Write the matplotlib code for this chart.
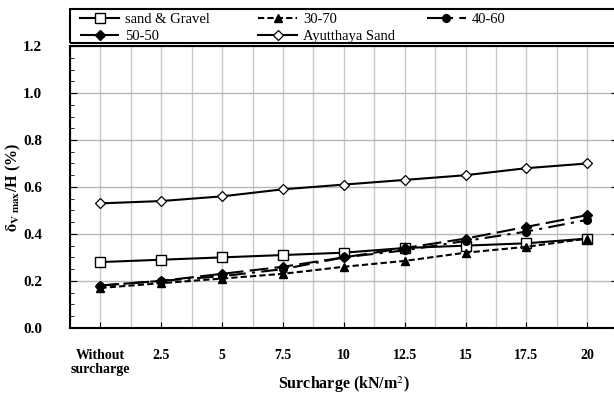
import numpy as np
import matplotlib
matplotlib.use('Agg')
import matplotlib.pyplot as plt
from matplotlib.patches import Rectangle
from matplotlib.ticker import MultipleLocator

plt.rcParams['font.family'] = ['Liberation Serif', 'DejaVu Serif']
plt.rcParams['mathtext.fontset'] = 'stix'

categories = ['Without\nsurcharge', '2.5', '5', '7.5', '10', '12.5', '15', '17.5', '20']
sand_gravel = [0.28, 0.29, 0.30, 0.31, 0.32, 0.34, 0.35, 0.36, 0.38]
mix_30_70 = [0.17, 0.19, 0.21, 0.23, 0.26, 0.285, 0.32, 0.345, 0.38]
mix_40_60 = [0.18, 0.20, 0.22, 0.25, 0.30, 0.33, 0.37, 0.41, 0.46]
mix_50_50 = [0.18, 0.20, 0.23, 0.26, 0.30, 0.34, 0.38, 0.43, 0.48]
ayutthaya = [0.53, 0.54, 0.56, 0.59, 0.61, 0.63, 0.65, 0.68, 0.70]

x = np.arange(len(categories))

fig = plt.figure(figsize=(6.14, 3.94), dpi=100)
ax = fig.add_axes([0.114, 0.168, 0.892, 0.715])

h1, = ax.plot(x, sand_gravel, color='black', lw=1.5, marker='s', ms=7, mfc='white', mec='black', mew=1.0, label='sand & Gravel')
h2, = ax.plot(x, mix_30_70, color='black', lw=1.5, ls=(0, (3, 1.5)), marker='^', ms=6, label='30-70')
h3, = ax.plot(x, mix_40_60, color='black', lw=1.5, ls=(0, (8, 3, 1.5, 3)), marker='o', ms=5.5, label='40-60')
h4, = ax.plot(x, mix_50_50, color='black', lw=1.5, ls=(0, (9, 3)), marker='D', ms=5.5, label='50-50')
h5, = ax.plot(x, ayutthaya, color='black', lw=1.5, marker='D', ms=5, mfc='white', mec='black', mew=0.9, label='Ayutthaya Sand')

ax.set_xlim(-0.5, 8.5)
ax.set_ylim(0, 1.2)
ax.set_xticks(x)
ax.set_xticklabels(categories, fontweight='bold', fontsize=10, linespacing=1.1)
ax.set_xticks(np.arange(-0.5, 9, 0.5), minor=True)
ax.yaxis.set_major_locator(MultipleLocator(0.2))
ax.yaxis.set_minor_locator(MultipleLocator(0.05))
ax.set_yticklabels([f'{v:.1f}' for v in ax.get_yticks()], fontweight='bold', fontsize=11)

ax.grid(True, which='major', axis='y', color='#b8b8b8', lw=1.0)
ax.grid(True, which='both', axis='x', color='#c8c8c8', lw=1.0)
ax.set_axisbelow(True)
ax.tick_params(axis='both', which='both', direction='in', right=True)
ax.tick_params(axis='x', which='minor', length=0)
ax.tick_params(axis='x', which='major', length=4, pad=15)
ax.tick_params(axis='y', which='major', length=5, pad=20)
ax.tick_params(axis='y', which='minor', length=3)
for s in ax.spines.values():
    s.set_linewidth(1.5)

ax.set_xlabel('Surcharge (kN/m$^{2}$)', fontweight='bold', fontsize=11.5)
ax.xaxis.set_label_coords(0.5, -0.165)
ax.set_ylabel(r'$\mathbf{\delta}_{\mathbf{V\ max}}$/H (%)', fontweight='bold', fontsize=11.5)
ax.yaxis.set_label_coords(-0.085, 0.5)

# legend: box across the top, three columns laid out row by row
fig.patches.append(Rectangle((0.114, 0.891), 0.9, 0.086, transform=fig.transFigure,
                             fill=False, edgecolor='black', lw=1.5))
columns = [([h1, h4], 0.130), ([h2, h5], 0.420), ([h3], 0.695)]
for hs, x0 in columns:
    leg = fig.legend(handles=hs, labels=[h.get_label() for h in hs],
                     loc='upper left', bbox_to_anchor=(x0, 0.968), frameon=False,
                     fontsize=10.5, handlelength=2.7, handletextpad=0.4,
                     borderpad=0, borderaxespad=0, labelspacing=0.25)

fig.savefig('out.png', dpi=100)
